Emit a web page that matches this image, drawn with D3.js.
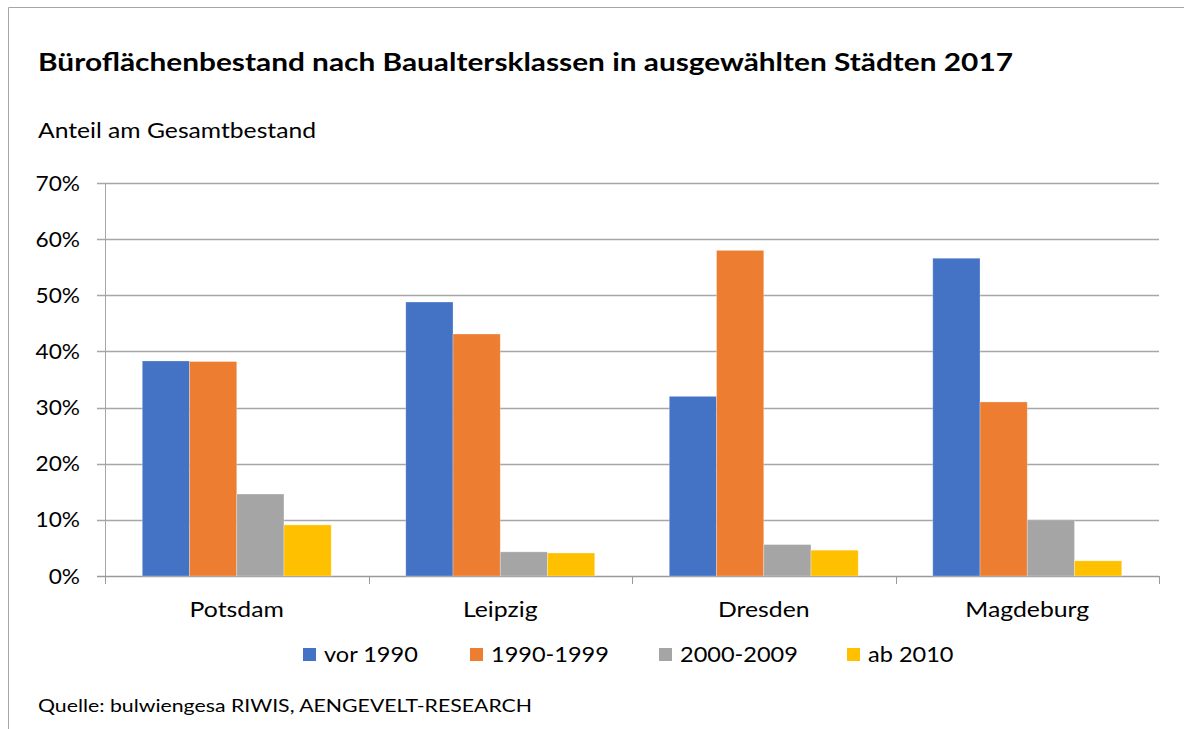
<!DOCTYPE html>
<html>
<head>
<meta charset="utf-8">
<script src="https://cdn.jsdelivr.net/npm/d3@7"></script>
<style>
  body { margin: 0; background: #fff; }
  text { font-family: Lato, "Open Sans", sans-serif; fill: #000; }
</style>
</head>
<body>
<div id="chart"></div>
<script>
var width = 1184,
    height = 729;

// data
var cities = ["Potsdam", "Leipzig", "Dresden", "Magdeburg"];
var classes = ["vor 1990", "1990-1999", "2000-2009", "ab 2010"];
var vor1990 = [38.3, 48.8, 32.0, 56.6];
var s1990 = [38.2, 43.1, 58.0, 31.0];
var s2000 = [14.6, 4.3, 5.6, 10.0];
var ab2010 = [9.1, 4.1, 4.6, 2.7];
var yTicks = [0, 10, 20, 30, 40, 50, 60, 70];
var colors = ["#4472C4", "#ED7D31", "#A5A5A5", "#FFC000"];

var series = [vor1990, s1990, s2000, ab2010];

var margin = { top: 183, left: 105, right: 25, bottom: 153 };

// Lato is narrower than the original font, widen glyphs a bit
var widen = 1.18;
function stretch(sel, f) {
    sel.each(function() {
        var w = this.getComputedTextLength();
        d3.select(this)
            .attr("textLength", w * f)
            .attr("lengthAdjust", "spacingAndGlyphs");
    });
}

var svg = d3.select("#chart").append("svg")
    .attr("width", width)
    .attr("height", height);

// frame
svg.append("path")
    .attr("d", "M8.5," + height + "V7.5H" + width)
    .attr("fill", "none")
    .attr("stroke", "#a6a6a6")
    .attr("stroke-width", 1);

var x0 = d3.scaleBand()
    .domain(cities)
    .range([margin.left, width - margin.right])
    .paddingInner(0.283)
    .paddingOuter(0.1415);

var x1 = d3.scaleBand()
    .domain(classes)
    .range([0, x0.bandwidth()]);

var y = d3.scaleLinear()
    .domain([0, 70])
    .range([height - margin.bottom, margin.top]);

// grid
svg.append("g")
    .selectAll("line")
    .data(yTicks)
    .enter().append("line")
    .attr("x1", margin.left - 8)
    .attr("x2", width - margin.right)
    .attr("y1", function(d) { return Math.round(y(d)) + 0.5; })
    .attr("y2", function(d) { return Math.round(y(d)) + 0.5; })
    .attr("stroke", function(d) { return d == 0 ? "#9a9a9a" : "#a6a6a6"; })
    .attr("stroke-width", 1.3);

// y axis line
svg.append("line")
    .attr("x1", margin.left + 0.5)
    .attr("x2", margin.left + 0.5)
    .attr("y1", y(70))
    .attr("y2", y(0))
    .attr("stroke", "#a6a6a6");

// y labels
var yLabels = svg.append("g")
    .selectAll("text")
    .data(yTicks)
    .enter().append("text")
    .attr("x", 80)
    .attr("y", function(d) { return y(d); })
    .attr("dy", "0.36em")
    .attr("text-anchor", "end")
    .style("font-size", "21px")
    .text(function(d) { return d + "%"; });
stretch(yLabels, 1.08);

// x ticks at category boundaries
var step = x0.step();
var bounds = d3.range(cities.length + 1).map(function(i) { return margin.left + i * step; });
svg.append("g")
    .selectAll("line")
    .data(bounds)
    .enter().append("line")
    .attr("x1", function(d) { return Math.round(d) + 0.5; })
    .attr("x2", function(d) { return Math.round(d) + 0.5; })
    .attr("y1", y(0))
    .attr("y2", y(0) + 8)
    .attr("stroke", "#9a9a9a");

// bars
var groups = svg.append("g")
    .selectAll("g")
    .data(cities)
    .enter().append("g")
    .attr("transform", function(d) { return "translate(" + x0(d) + ",0)"; });

groups.selectAll("rect")
    .data(function(d, i) {
        return classes.map(function(c, j) { return { cls: c, value: series[j][i], idx: j }; });
    })
    .enter().append("rect")
    .attr("x", function(d) { return x1(d.cls); })
    .attr("width", x1.bandwidth())
    .attr("y", function(d) { return y(d.value); })
    .attr("height", function(d) { return y(0) - y(d.value); })
    .attr("fill", function(d) { return colors[d.idx]; })
    .attr("stroke", "#fff")
    .attr("stroke-opacity", 0.35)
    .attr("stroke-width", 0.8);

// x labels
var xLabels = svg.append("g")
    .selectAll("text")
    .data(cities)
    .enter().append("text")
    .attr("x", function(d) { return x0(d) + x0.bandwidth() / 2; })
    .attr("y", 617)
    .attr("text-anchor", "middle")
    .style("font-size", "21px")
    .text(function(d) { return d; });
stretch(xLabels, widen);

// legend
var legendX = [303, 470, 659, 847];
var legend = svg.append("g")
    .selectAll("g")
    .data(classes)
    .enter().append("g")
    .attr("transform", function(d, i) { return "translate(" + legendX[i] + ",648)"; });

legend.append("rect")
    .attr("width", 13)
    .attr("height", 13)
    .attr("fill", function(d, i) { return colors[i]; });

var legendText = legend.append("text")
    .attr("x", 21)
    .attr("y", 14)
    .style("font-size", "21px")
    .text(function(d) { return d; });
stretch(legendText, 1.12);

// titles
var title = svg.append("text")
    .attr("x", 38)
    .attr("y", 71)
    .style("font-size", "25px")
    .style("font-weight", "bold")
    .text("Büroflächenbestand nach Baualtersklassen in ausgewählten Städten 2017");
title.attr("textLength", 975).attr("lengthAdjust", "spacingAndGlyphs");

var subtitle = svg.append("text")
    .attr("x", 38)
    .attr("y", 138)
    .style("font-size", "21px")
    .text("Anteil am Gesamtbestand");
subtitle.attr("textLength", 278).attr("lengthAdjust", "spacingAndGlyphs");

var source = svg.append("text")
    .attr("x", 38)
    .attr("y", 712)
    .style("font-size", "18px")
    .text("Quelle: bulwiengesa RIWIS, AENGEVELT-RESEARCH");
source.attr("textLength", 494).attr("lengthAdjust", "spacingAndGlyphs");
</script>
</body>
</html>
